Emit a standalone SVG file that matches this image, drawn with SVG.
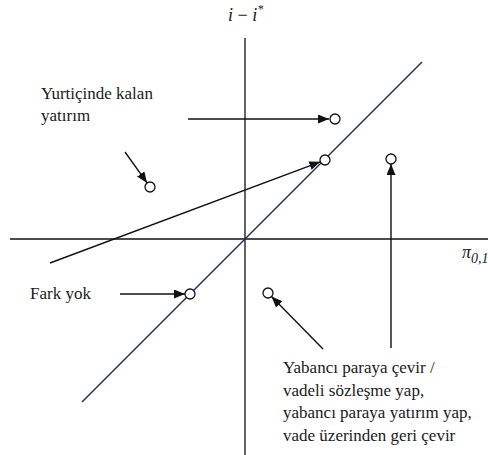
<svg xmlns="http://www.w3.org/2000/svg" width="488" height="455" viewBox="0 0 488 455">
<style>
.ax{stroke:#111;stroke-width:1.3;fill:none}
.diag{stroke:#2a2a5a;stroke-width:1.4;fill:none}
.arr{stroke:#111;stroke-width:1.4;fill:none;marker-end:url(#ah)}
.pt{stroke:#111;stroke-width:1.3;fill:#fff}
</style>
<defs>
<marker id="ah" markerUnits="userSpaceOnUse" markerWidth="12" markerHeight="10" refX="11" refY="4.5" orient="auto">
<path d="M0,0 L11,4.5 L0,9 z" fill="#111"/>
</marker>
</defs>
<rect width="488" height="455" fill="#fff"/>
<g id="axes">
<line class="ax" x1="10" y1="239" x2="488" y2="239"/>
<line class="ax" x1="245" y1="38" x2="245" y2="455"/>
<line class="diag" x1="82" y1="402" x2="422" y2="62"/>
<text font-family="Liberation Serif, serif" font-style="italic" font-size="18" fill="#1a1a1a" x="228" y="21">i <tspan font-style="normal">−</tspan> i<tspan dy="-8" font-size="12">*</tspan></text>
<text font-family="Liberation Serif, serif" font-style="italic" font-size="18" fill="#1a1a1a" x="462" y="258">π<tspan dy="5" font-size="14">0,1</tspan></text>
</g>
<g id="connectors">
<line class="arr" x1="188" y1="119" x2="329" y2="119"/>
<line class="arr" x1="50" y1="263" x2="320.3" y2="161.8"/>
<line class="arr" x1="125" y1="152" x2="147.1" y2="182.9"/>
<line class="arr" x1="120" y1="294" x2="185" y2="294"/>
<line class="arr" x1="391" y1="348" x2="391" y2="164"/>
<line class="arr" x1="323" y1="349" x2="271.5" y2="296.6"/>
</g>
<g id="node-yurtici-label" font-family="Liberation Serif, serif" font-size="17" fill="#1a1a1a"><text x="41" y="99">Yurtiçinde kalan</text><text x="41" y="121">yatırım</text></g>
<g id="node-fark-yok-label" font-family="Liberation Serif, serif" font-size="17" fill="#1a1a1a"><text x="30" y="299">Fark yok</text></g>
<g id="node-yabanci-label" font-family="Liberation Serif, serif" font-size="17" fill="#1a1a1a">
<text x="283" y="373">Yabancı paraya çevir /</text>
<text x="283" y="395.5">vadeli sözleşme yap,</text>
<text x="283" y="418">yabancı paraya yatırım yap,</text>
<text x="283" y="440.5">vade üzerinden geri çevir</text>
</g>
<g id="node-p1"><circle class="pt" cx="335" cy="119" r="5"/></g>
<g id="node-p2"><circle class="pt" cx="325" cy="160" r="5"/></g>
<g id="node-p3"><circle class="pt" cx="391" cy="159" r="5"/></g>
<g id="node-p4"><circle class="pt" cx="150" cy="187" r="5"/></g>
<g id="node-p5"><circle class="pt" cx="190" cy="294" r="5"/></g>
<g id="node-p6"><circle class="pt" cx="268" cy="293" r="5"/></g>
</svg>
